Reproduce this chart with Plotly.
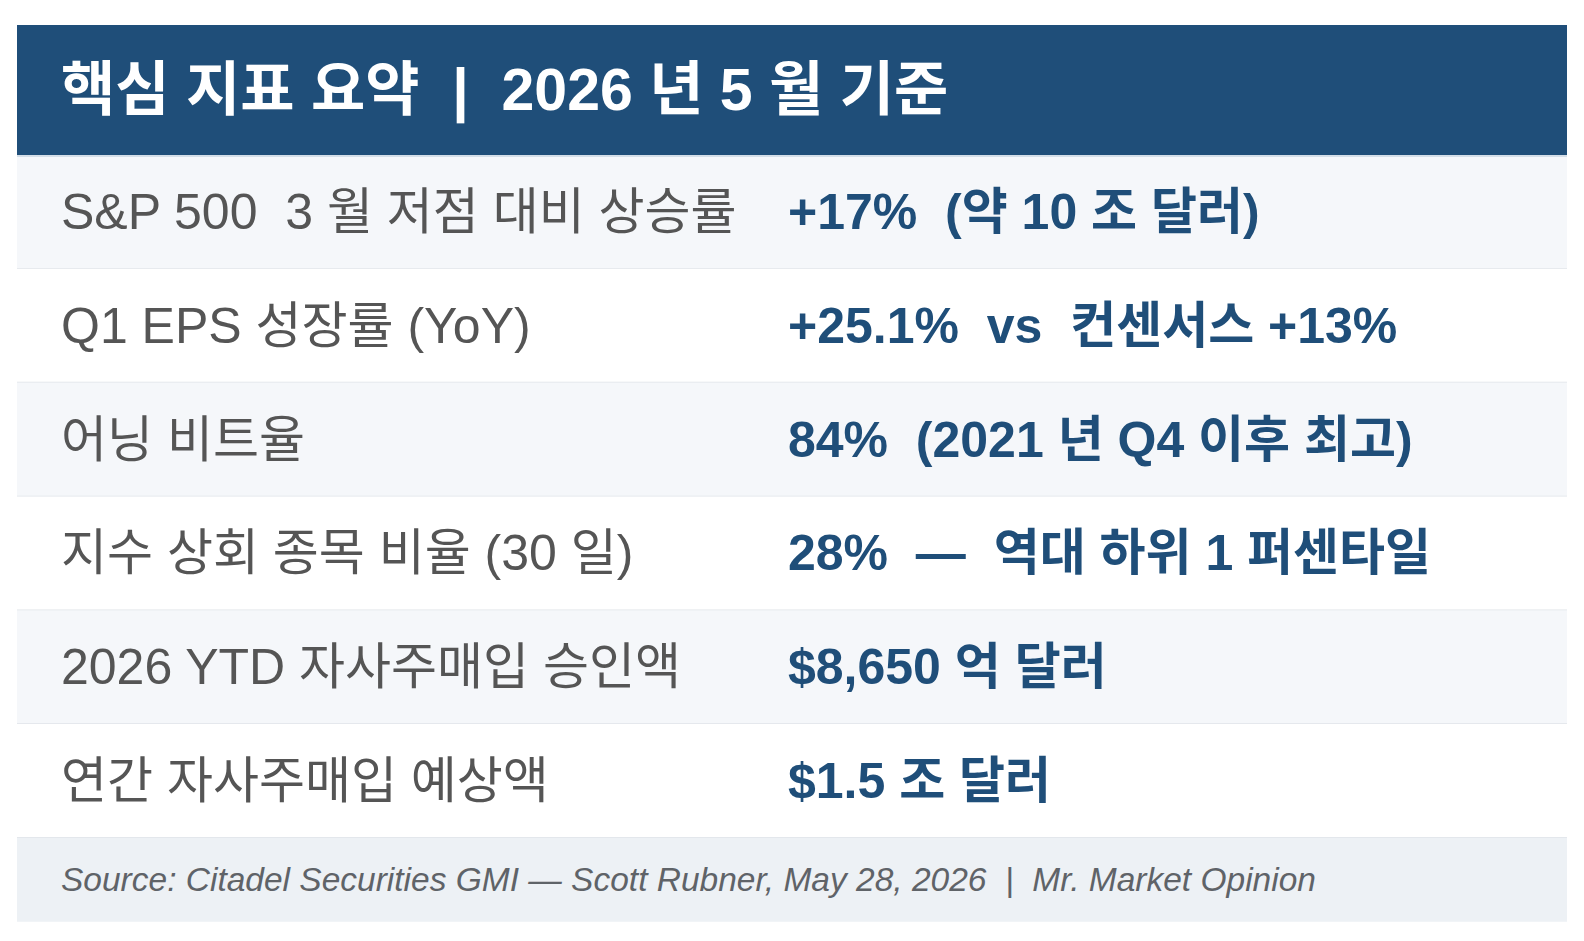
import plotly.graph_objects as go

# table content
title = "핵심 지표 요약  |  2026 년 5 월 기준"
labels = [
    "S&P 500  3 월 저점 대비 상승률",
    "Q1 EPS 성장률 (YoY)",
    "어닝 비트율",
    "지수 상회 종목 비율 (30 일)",
    "2026 YTD 자사주매입 승인액",
    "연간 자사주매입 예상액",
]
values = [
    "+17%  (약 10 조 달러)",
    "+25.1%  vs  컨센서스 +13%",
    "84%  (2021 년 Q4 이후 최고)",
    "28%  —  역대 하위 1 퍼센타일",
    "$8,650 억 달러",
    "$1.5 조 달러",
]
source = "Source: Citadel Securities GMI — Scott Rubner, May 28, 2026  |  Mr. Market Opinion"

# page has an 8px body margin, so the figure is a bit smaller and the axes are offset
pad = 8
W, H = 1584 - 2 * pad, 941 - 2 * pad
left, right = 17, 1567
head_top, head_bot = 25, 155
row_h = 113.8
foot_h = 84
text_x = 59
val_x = 786

navy = '#1f4e79'
fonts = "Liberation Sans, Arial, Noto Sans CJK KR, sans-serif"

fig = go.Figure()
shapes, notes = [], []

# header band
shapes.append(dict(type='rect', x0=left, x1=right, y0=head_top, y1=head_bot,
                   fillcolor=navy, line_width=0, layer='below'))
notes.append(dict(x=text_x, y=(head_top + head_bot) / 2, text=f"<b>{title}</b>",
                  xanchor='left', yanchor='middle', showarrow=False,
                  font=dict(size=59, color='white', family=fonts)))

for i, (lab, val) in enumerate(zip(labels, values)):
    y0 = head_bot + i * row_h
    y1 = y0 + row_h
    fill = '#f5f7fa' if i % 2 == 0 else 'white'
    shapes.append(dict(type='rect', x0=left, x1=right, y0=y0, y1=y1,
                       fillcolor=fill, line_width=0, layer='below'))
    shapes.append(dict(type='line', x0=left, x1=right, y0=y1, y1=y1,
                       line=dict(color='#dfe3e8', width=1.5), layer='below'))
    yc = (y0 + y1) / 2
    notes.append(dict(x=text_x, y=yc, text=lab, xanchor='left', yanchor='middle',
                      showarrow=False, font=dict(size=50, color='#555555', family=fonts)))
    notes.append(dict(x=val_x, y=yc, text=f"<b>{val}</b>", xanchor='left', yanchor='middle',
                      showarrow=False, font=dict(size=50, color=navy, family=fonts)))

# light line under header
shapes.append(dict(type='line', x0=left, x1=right, y0=head_bot + 1, y1=head_bot + 1,
                   line=dict(color='#c9d6e2', width=1.5), layer='below'))

# footer
f0 = head_bot + len(labels) * row_h
f1 = f0 + foot_h
shapes.append(dict(type='rect', x0=left, x1=right, y0=f0, y1=f1,
                   fillcolor='#edf1f5', line_width=0, layer='below'))
notes.append(dict(x=text_x, y=(f0 + f1) / 2, text=f"<i>{source}</i>", xanchor='left',
                  yanchor='middle', showarrow=False,
                  font=dict(size=33.5, color='#5f6368', family=fonts)))

fig.update_layout(
    width=W, height=H, margin=dict(l=0, r=0, t=0, b=0),
    paper_bgcolor='white', plot_bgcolor='white',
    shapes=shapes, annotations=notes, showlegend=False,
    xaxis=dict(range=[pad, pad + W], visible=False, fixedrange=True),
    yaxis=dict(range=[pad + H, pad], visible=False, fixedrange=True),
)

fig.write_html("out.html")
